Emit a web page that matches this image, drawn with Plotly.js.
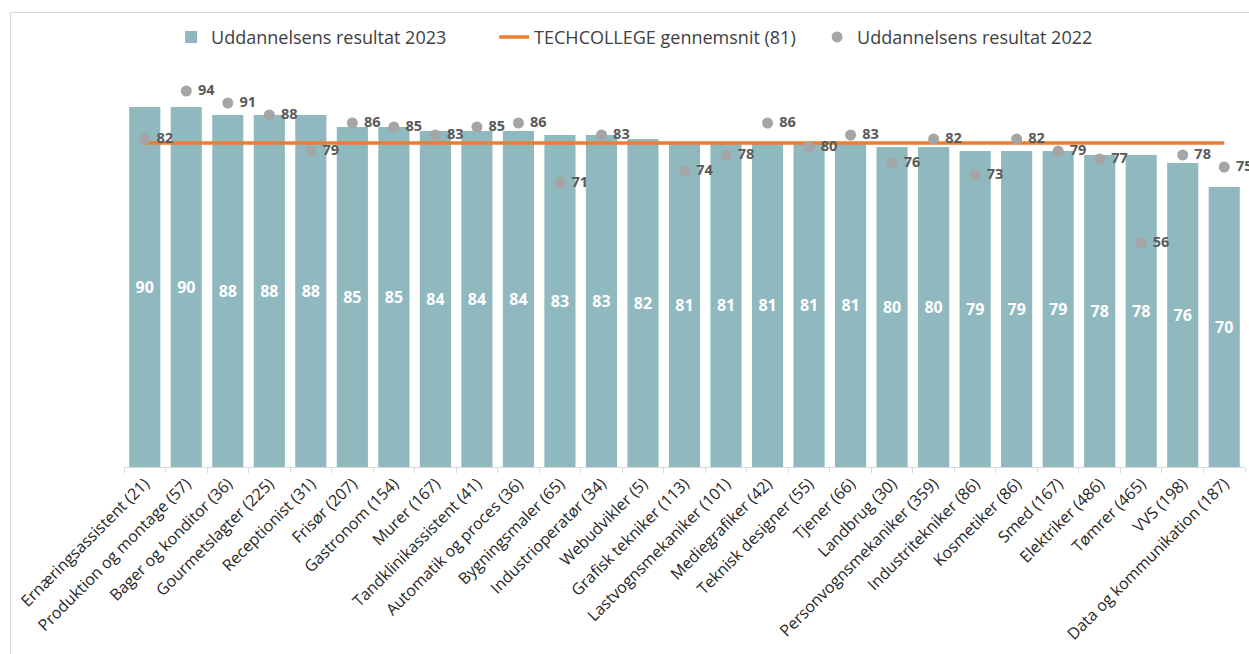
<!DOCTYPE html>
<html>
<head>
<meta charset="utf-8">
<script src="https://cdn.plot.ly/plotly-3.0.1.min.js"></script>
<style>
html,body{margin:0;padding:0;background:#fff;}
#wrap{position:relative;width:1249px;height:654px;}
#chart{width:1249px;height:654px;}
#frame{position:absolute;left:10px;top:12px;width:1239px;height:642px;border-left:1px solid #d9d9d9;border-top:1px solid #d9d9d9;pointer-events:none;}
</style>
</head>
<body>
<div id="wrap"><div id="chart"></div><div id="frame"></div></div>
<script>
const categories = ["Ernæringsassistent (21)","Produktion og montage (57)","Bager og konditor (36)","Gourmetslagter (225)","Receptionist (31)","Frisør (207)","Gastronom (154)","Murer (167)","Tandklinikassistent (41)","Automatik og proces (36)","Bygningsmaler (65)","Industrioperatør (34)","Webudvikler (5)","Grafisk tekniker (113)","Lastvognsmekaniker (101)","Mediegrafiker (42)","Teknisk designer (55)","Tjener (66)","Landbrug (30)","Personvognsmekaniker (359)","Industritekniker (86)","Kosmetiker (86)","Smed (167)","Elektriker (486)","Tømrer (465)","VVS (198)","Data og kommunikation (187)"];
const result2023 = [90,90,88,88,88,85,85,84,84,84,83,83,82,81,81,81,81,81,80,80,79,79,79,78,78,76,70];
const result2022 = [82,94,91,88,79,86,85,83,85,86,71,83,null,74,78,86,80,83,76,82,73,82,79,77,56,78,75];
const techAverage = 81;
const averageLine = categories.map(() => techAverage);

const font = "Open Sans, Noto Sans, sans-serif";
const traces = [
  {
    type: 'bar', name: 'Uddannelsens resultat 2023',
    x: categories, y: result2023,
    marker: {color: '#8FB9BF'},
    text: result2023.map(String), textposition: 'inside', insidetextanchor: 'middle',
    textfont: {color: '#ffffff', size: 16, family: font, weight: 'bold'},
    hoverinfo: 'x+y'
  },
  {
    type: 'scatter', mode: 'lines', name: 'TECHCOLLEGE gennemsnit (81)',
    x: categories, y: averageLine,
    line: {color: '#ED7D31', width: 3.5}
  },
  {
    type: 'scatter', mode: 'markers+text', name: 'Uddannelsens resultat 2022',
    x: categories, y: result2022,
    marker: {color: '#A5A5A5', size: 11},
    text: result2022.map(v => v == null ? '' : ' ' + v), textposition: 'middle right',
    textfont: {color: '#595959', size: 14.5, family: font, weight: 'bold'},
    cliponaxis: false
  }
];

const layout = {
  width: 1249, height: 654,
  margin: {l: 124, r: 4, t: 67, b: 187},
  paper_bgcolor: '#ffffff', plot_bgcolor: '#ffffff',
  bargap: 0.25,
  showlegend: true,
  legend: {orientation: 'h', xref: 'container', yref: 'container', x: 0.137, xanchor: 'left', y: 0.943, yanchor: 'middle',
           font: {family: font, size: 18, color: '#404040'}, itemwidth: 30, entrywidth: 278, traceorder: 'normal'},
  xaxis: {
    type: 'category', range: [-0.5, 26.5], autorange: false, tickangle: -45, showgrid: false,
    showline: true, linecolor: '#d9d9d9', linewidth: 1,
    ticks: 'outside', tickson: 'boundaries', ticklen: 5, tickcolor: '#d9d9d9',
    tickfont: {family: font, size: 16, color: '#262626'},
    automargin: false
  },
  yaxis: {range: [0, 100], visible: false, showgrid: false, zeroline: false, fixedrange: true}
};

Plotly.newPlot('chart', traces, layout, {displayModeBar: false, staticPlot: true});
</script>
</body>
</html>
